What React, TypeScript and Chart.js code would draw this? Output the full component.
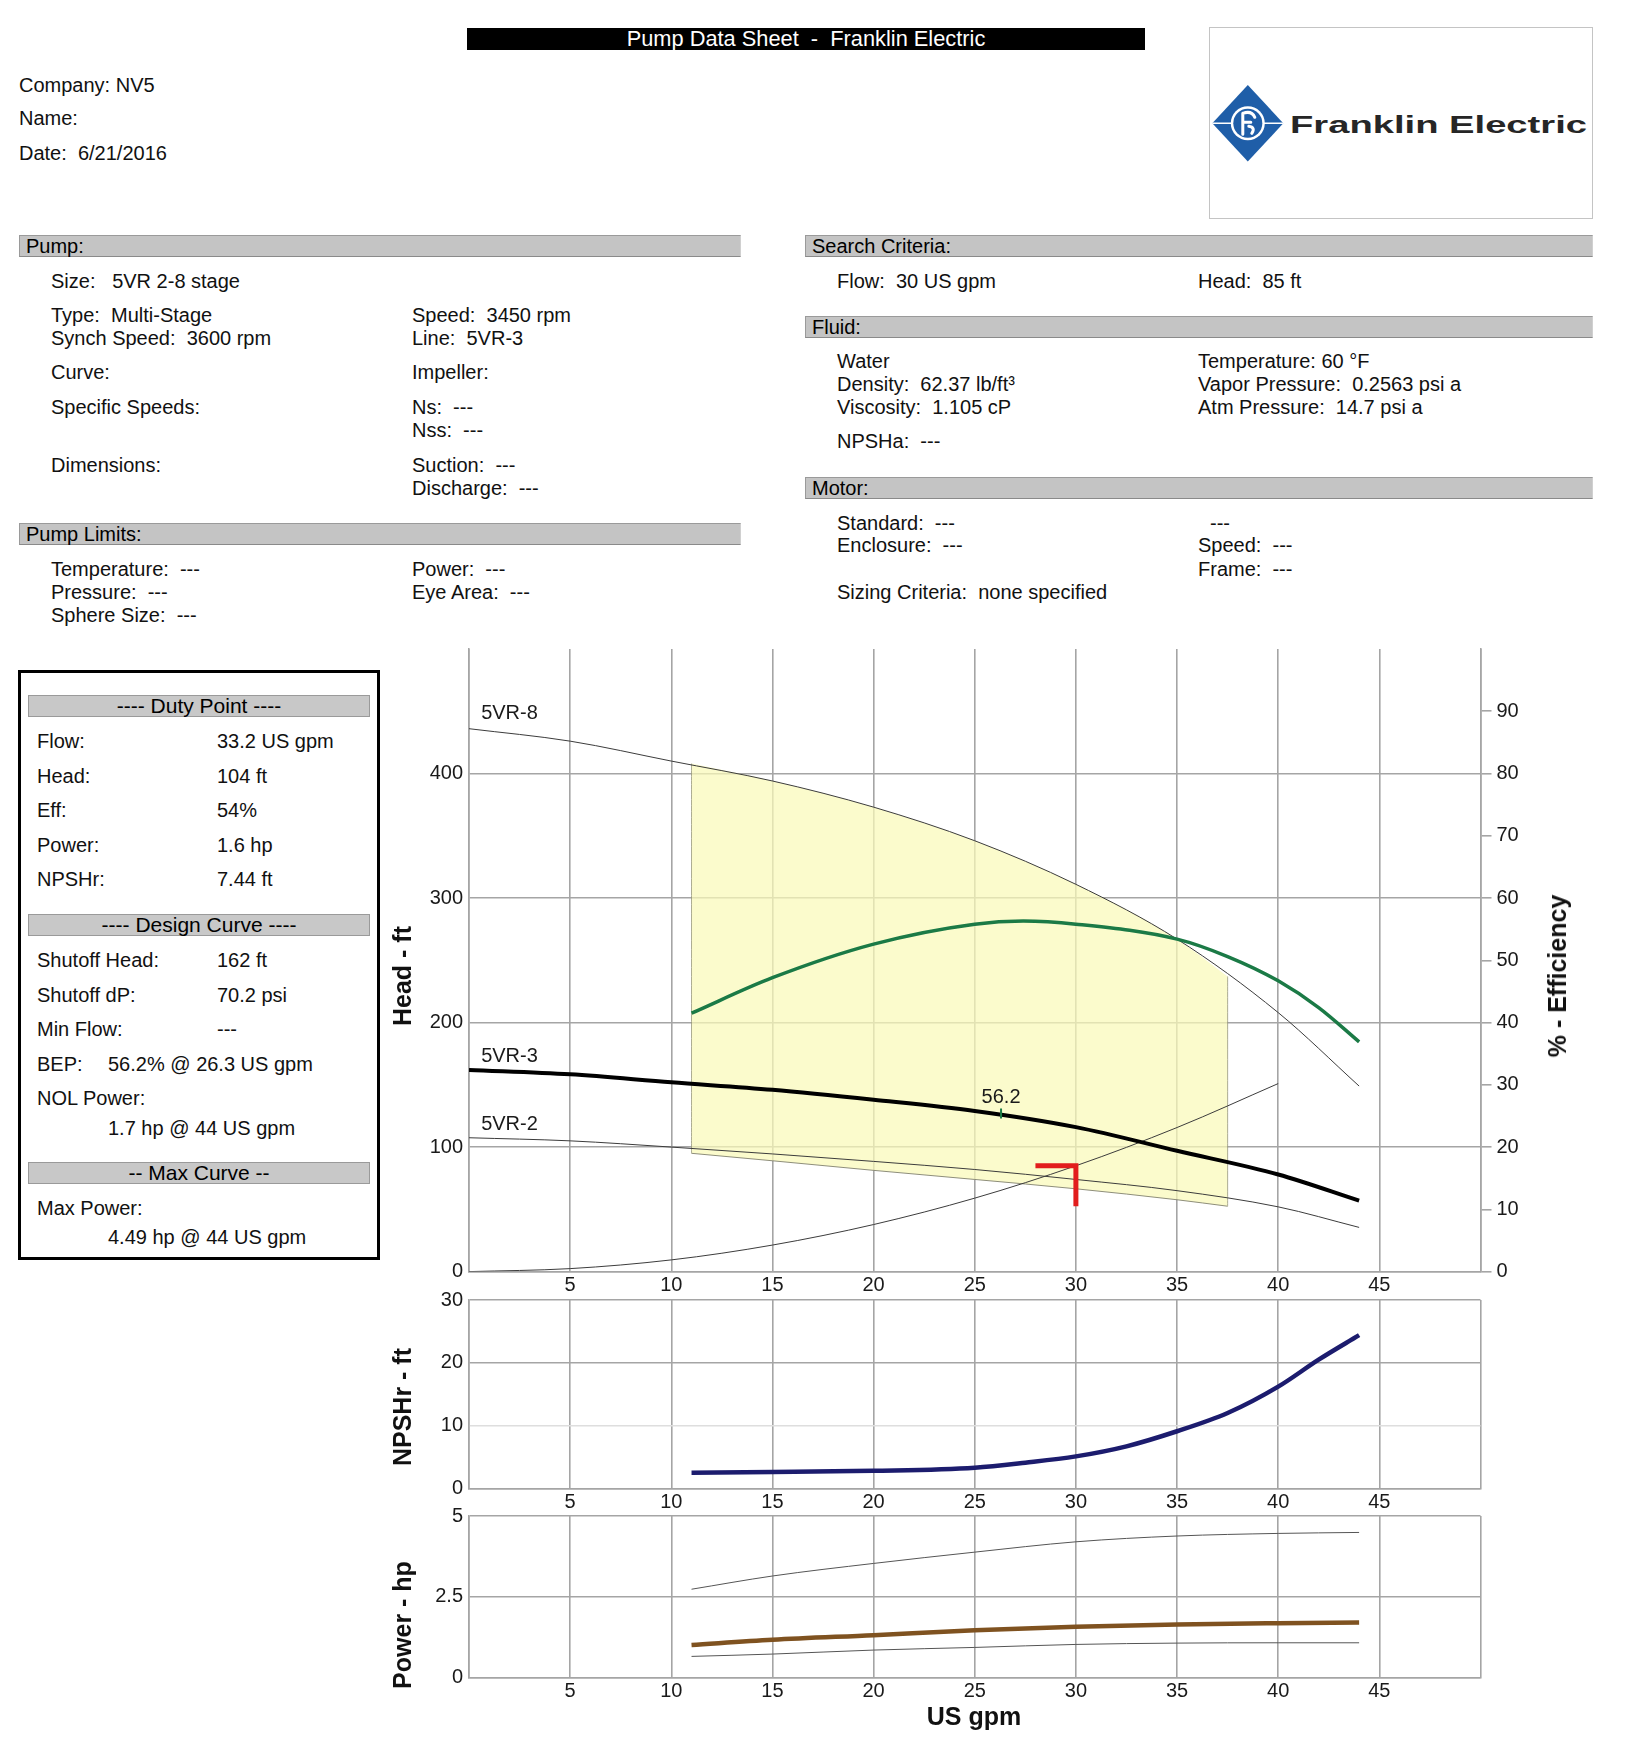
import React, { useEffect, useRef } from 'react';
import Chart from 'chart.js/auto';

const FONT = '"Liberation Sans", Arial, Helvetica, sans-serif';

// ---------- Chart data ----------
const headFlow = [0, 5, 10, 15, 20, 25, 30, 35, 40, 44];
const head5VR8 = [436, 426, 410, 394, 373, 346, 311, 267, 208, 149];
const head5VR3 = [162, 158.4, 152, 146, 138, 129, 116, 97, 78, 57];
const head5VR2 = [107.5, 105, 100, 94.5, 88.5, 82, 74, 65, 52, 35.5];

const systemFlow = [0, 5, 10, 15, 20, 25, 30, 35, 40];
const systemHead = [0, 2.4, 9.4, 21.3, 37.8, 59, 85, 115.7, 151];

const effFlow = [11, 15, 20, 25, 27.4, 30, 35, 37.5, 40, 42, 44];
const effPct = [41.5, 47.2, 52.6, 55.8, 56.3, 55.8, 53.4, 50.6, 46.7, 42.4, 36.9];

const regionFlow = [11, 15, 20, 25, 30, 35, 37.5];
const regionTop = [408, 394, 373, 346, 311, 267, 237];
const regionBottom = [95, 89, 81.3, 74, 66.5, 57.7, 52.5];

const dutyMarkFlow = [28, 30, 30];
const dutyMarkHead = [85, 85, 52.5];

const bepFlow = 26.3;
const bepTickHead = [123, 131];
const bepLabel = '56.2';
const bepLabelHead = 140;

const curveNames = ['5VR-8', '5VR-3', '5VR-2'];
const curveLabelFlow = 0.6;
const curveLabelHead = [448, 173, 118];

const npshFlow = [11, 15, 20, 25, 27.5, 30, 32.5, 35, 37.5, 40, 42, 44];
const npshFt = [2.5, 2.6, 2.8, 3.3, 4.1, 5.1, 6.7, 9.1, 12, 16.2, 20.5, 24.4];

const powerFlow = [11, 15, 20, 25, 30, 35, 40, 44];
const powerMax = [2.73, 3.14, 3.53, 3.88, 4.2, 4.38, 4.46, 4.49];
const powerDesign = [1.0, 1.163, 1.307, 1.46, 1.564, 1.636, 1.677, 1.7];
const powerMin = [0.648, 0.72, 0.844, 0.926, 1.019, 1.06, 1.07, 1.07];

const flowTicks = [5, 10, 15, 20, 25, 30, 35, 40, 45];

// ---------- helpers ----------
const pts = (xs: number[], ys: number[]) => xs.map((x, i) => ({ x, y: ys[i] }));
const GRID = 'rgb(165,165,165)';
const TICK_FONT = { family: FONT, size: 20 };
const TICK_COLOR = '#1a1a1a';

const xScale = (height: number) => ({
  type: 'linear',
  min: 0,
  max: 50,
  afterFit: (s: any) => { s.height = height; },
  ticks: {
    stepSize: 5,
    autoSkip: false,
    maxRotation: 0,
    padding: 2,
    color: TICK_COLOR,
    font: TICK_FONT,
    callback: (v: number) => (flowTicks.includes(v) ? String(v) : ''),
  },
  grid: { color: GRID, lineWidth: 1.6, drawTicks: false },
  border: { color: GRID, width: 1.6 },
});

const thin = (data: any[], color = '#3c3c3c') => ({
  data, borderColor: color, borderWidth: 1, pointRadius: 0, fill: false, cubicInterpolationMode: 'monotone',
});

const curveLabelPlugin = {
  id: 'curveLabels',
  afterDatasetsDraw(chart: any) {
    const { ctx, scales } = chart;
    const x = scales.x, y = scales.y;
    ctx.save();
    ctx.font = `20px ${FONT}`;
    ctx.fillStyle = '#1a1a1a';
    ctx.textBaseline = 'middle';
    ctx.textAlign = 'left';
    curveNames.forEach((n, i) => {
      ctx.fillText(n, x.getPixelForValue(curveLabelFlow), y.getPixelForValue(curveLabelHead[i]));
    });
    ctx.textAlign = 'center';
    ctx.fillText(bepLabel, x.getPixelForValue(bepFlow), y.getPixelForValue(bepLabelHead));
    ctx.restore();
  },
};

function useChart(ref: React.RefObject<HTMLCanvasElement>, make: () => any) {
  useEffect(() => {
    if (!ref.current) return;
    const chart = new Chart(ref.current, make());
    return () => chart.destroy();
  }, []);
}

const baseOptions = {
  responsive: false,
  animation: false,
  devicePixelRatio: 1,
  events: [],
  plugins: { legend: { display: false }, tooltip: { enabled: false } },
};

function HeadChart() {
  const ref = useRef<HTMLCanvasElement>(null);
  useChart(ref, () => ({
    type: 'line',
    data: {
      datasets: [
        { data: pts(dutyMarkFlow, dutyMarkHead), borderColor: '#e21d1d', borderWidth: 5, pointRadius: 0, tension: 0, borderCapStyle: 'butt', borderJoinStyle: 'miter' },
        { data: pts([bepFlow, bepFlow], bepTickHead), borderColor: '#1b7a46', borderWidth: 2, pointRadius: 0 },
        { data: pts(headFlow, head5VR3), borderColor: '#000', borderWidth: 4, pointRadius: 0, cubicInterpolationMode: 'monotone' },
        { data: pts(effFlow, effPct), yAxisID: 'y2', borderColor: '#1b7a46', borderWidth: 3.5, pointRadius: 0, cubicInterpolationMode: 'monotone' },
        thin(pts(headFlow, head5VR8)),
        thin(pts(headFlow, head5VR2)),
        thin(pts(systemFlow, systemHead)),
        thin(pts([regionFlow[0], regionFlow[0]], [regionBottom[0], regionTop[0]]), 'rgba(150,150,120,0.8)'),
        thin(pts([regionFlow[regionFlow.length - 1], regionFlow[regionFlow.length - 1]], [regionBottom[regionBottom.length - 1], regionTop[regionTop.length - 1]]), 'rgba(150,150,120,0.8)'),
        thin(pts(regionFlow, regionBottom), 'rgba(130,130,110,0.9)'),
        { data: pts(regionFlow, regionTop), borderWidth: 0, borderColor: 'rgba(0,0,0,0)', pointRadius: 0, cubicInterpolationMode: 'monotone', fill: '-1', backgroundColor: 'rgba(250,250,185,0.72)' },
      ],
    },
    options: {
      ...baseOptions,
      layout: { padding: { top: 19, left: 0, right: 0, bottom: 0 } },
      scales: {
        x: xScale(33.4),
        y: {
          type: 'linear', position: 'left', min: 0, max: 500,
          afterFit: (s: any) => { s.width = 129; },
          ticks: { stepSize: 100, padding: 6, color: TICK_COLOR, font: TICK_FONT, callback: (v: number) => (v < 500 ? String(v) : '') },
          grid: { color: (c: any) => (c.tick && c.tick.value === 500 ? 'rgba(0,0,0,0)' : GRID), lineWidth: 1.6, drawTicks: false },
          border: { color: GRID, width: 1.6 },
        },
        y2: {
          type: 'linear', position: 'right', min: 0, max: 100,
          afterFit: (s: any) => { s.width = 147.5; },
          ticks: { stepSize: 10, padding: 5, color: TICK_COLOR, font: TICK_FONT, callback: (v: number) => (v < 100 ? String(v) : '') },
          grid: { drawOnChartArea: false, drawTicks: true, tickLength: 11, lineWidth: 1.6, color: (c: any) => (c.tick && c.tick.value === 100 ? 'rgba(0,0,0,0)' : GRID) },
          border: { display: true, color: GRID, width: 1.6 },
        },
      },
    },
    plugins: [curveLabelPlugin],
  }));
  return <canvas ref={ref} width={1288} height={675} style={{ position: 'absolute', left: 340, top: 630 }} />;
}

function NpshChart() {
  const ref = useRef<HTMLCanvasElement>(null);
  useChart(ref, () => ({
    type: 'line',
    data: {
      datasets: [
        { data: pts(npshFlow, npshFt), borderColor: '#1c1c6e', borderWidth: 4.5, pointRadius: 0, cubicInterpolationMode: 'monotone' },
      ],
    },
    options: {
      ...baseOptions,
      layout: { padding: { top: 20, left: 0, right: 147.5, bottom: 0 } },
      scales: {
        x: xScale(28.6),
        y: {
          type: 'linear', position: 'left', min: 0, max: 30,
          afterFit: (s: any) => { s.width = 129; },
          ticks: { stepSize: 10, padding: 6, color: TICK_COLOR, font: TICK_FONT },
          grid: { color: (c: any) => (c.tick && c.tick.value === 10 ? 'rgb(222,222,222)' : GRID), lineWidth: 1.6, drawTicks: false },
          border: { color: GRID, width: 1.6 },
        },
      },
    },
  }));
  return <canvas ref={ref} width={1288} height={237.5} style={{ position: 'absolute', left: 340, top: 1279.5 }} />;
}

function PowerChart() {
  const ref = useRef<HTMLCanvasElement>(null);
  useChart(ref, () => ({
    type: 'line',
    data: {
      datasets: [
        { data: pts(powerFlow, powerDesign), borderColor: '#7f5220', borderWidth: 4.5, pointRadius: 0, cubicInterpolationMode: 'monotone' },
        thin(pts(powerFlow, powerMax), '#555'),
        thin(pts(powerFlow, powerMin), '#555'),
      ],
    },
    options: {
      ...baseOptions,
      layout: { padding: { top: 20, left: 0, right: 147.5, bottom: 0 } },
      scales: {
        x: xScale(26.7),
        y: {
          type: 'linear', position: 'left', min: 0, max: 5,
          afterFit: (s: any) => { s.width = 129; },
          ticks: { stepSize: 2.5, padding: 6, color: TICK_COLOR, font: TICK_FONT, callback: (v: number) => String(v) },
          grid: { color: GRID, lineWidth: 1.6, drawTicks: false },
          border: { color: GRID, width: 1.6 },
        },
      },
    },
  }));
  return <canvas ref={ref} width={1288} height={208.7} style={{ position: 'absolute', left: 340, top: 1496.3 }} />;
}

// ---------- page pieces ----------
const T = ({ x, y, children, style }: any) => (
  <div style={{ position: 'absolute', left: x, top: y - 12, lineHeight: '24px', whiteSpace: 'pre', ...style }}>{children}</div>
);

const Bar = ({ x, y, w, h, label }: any) => (
  <div style={{ position: 'absolute', left: x, top: y, width: w, height: h, boxSizing: 'border-box', background: '#c4c4c4', borderTop: '1px solid #9a9a9a', borderBottom: '1px solid #8a8a8a', borderLeft: '1px solid #9a9a9a', borderRight: '1px solid #d0d0d0', lineHeight: `${h - 2}px`, paddingLeft: 6, whiteSpace: 'pre', color: '#000' }}>{label}</div>
);

const CBar = ({ y, label }: any) => (
  <div style={{ position: 'absolute', left: 28, top: y, width: 342, height: 22.4, boxSizing: 'border-box', background: '#c8c8c8', border: '1px solid #9a9a9a', lineHeight: '20px', textAlign: 'center', fontSize: 21, whiteSpace: 'pre', color: '#000' }}>{label}</div>
);

const VTitle = ({ x, y, children }: any) => (
  <div style={{ position: 'absolute', left: x, top: y, transform: 'translate(-50%, -50%) rotate(-90deg)', fontWeight: 'bold', fontSize: 25, whiteSpace: 'nowrap', lineHeight: '28px', color: '#111' }}>{children}</div>
);

function Logo() {
  const cx = 38.8, cy = 96.3;
  return (
    <svg style={{ position: 'absolute', left: 1209, top: 27 }} width={384} height={192}>
      <rect x={0.5} y={0.5} width={383} height={191} fill="#fff" stroke="#c4c4c4" />
      <polygon points={`${cx - 35.5},${cy} ${cx},${cy - 38.3} ${cx + 35.5},${cy} ${cx},${cy + 38.3}`} fill="#1f5ea8" />
      <line x1={cx - 35.5} y1={cy} x2={cx + 35.5} y2={cy} stroke="#fff" strokeWidth={1.5} />
      <circle cx={cx} cy={cy} r={17} fill="#fff" />
      <circle cx={cx} cy={cy} r={14.5} fill="#1f5ea8" />
      <path d={`M${cx - 5} ${cy - 10} L${cx - 5} ${cy + 11} M${cx - 5} ${cy - 10} Q${cx + 4} ${cy - 13} ${cx + 7} ${cy - 6} M${cx - 5} ${cy - 1} L${cx + 3} ${cy - 1} M${cx + 1} ${cy + 3} Q${cx + 8} ${cy + 4} ${cx + 4} ${cy + 10}`} stroke="#fff" strokeWidth={3} fill="none" strokeLinecap="round" />
      <text x={81} y={105.7} fontFamily={FONT} fontWeight="bold" fontSize={24.5} fill="#262626" textLength={297} lengthAdjust="spacingAndGlyphs">Franklin Electric</text>
    </svg>
  );
}

export default function App() {
  return (
    <div style={{ position: 'absolute', left: 0, top: 0, width: 1628, height: 1752, overflow: 'hidden', background: '#fff', fontFamily: FONT, fontSize: 20, color: '#111' }}>
      {/* Title */}
      <div style={{ position: 'absolute', left: 467, top: 28, width: 678, height: 22.4, background: '#000', color: '#fff', textAlign: 'center', lineHeight: '22px', fontSize: 21.8, whiteSpace: 'pre' }}>Pump Data Sheet  -  Franklin Electric</div>
      <Logo />

      <T x={19} y={85}>Company: NV5</T>
      <T x={19} y={118}>Name:</T>
      <T x={19} y={153}>Date:  6/21/2016</T>

      {/* Pump */}
      <Bar x={19} y={235} w={722} h={22.4} label="Pump:" />
      <T x={51} y={280.5}>Size:   5VR 2-8 stage</T>
      <T x={51} y={315}>Type:  Multi-Stage</T>
      <T x={412} y={315}>Speed:  3450 rpm</T>
      <T x={51} y={337.5}>Synch Speed:  3600 rpm</T>
      <T x={412} y={337.5}>Line:  5VR-3</T>
      <T x={51} y={372}>Curve:</T>
      <T x={412} y={372}>Impeller:</T>
      <T x={51} y={406.7}>Specific Speeds:</T>
      <T x={412} y={406.7}>Ns:  ---</T>
      <T x={412} y={430}>Nss:  ---</T>
      <T x={51} y={464.8}>Dimensions:</T>
      <T x={412} y={464.8}>Suction:  ---</T>
      <T x={412} y={488.3}>Discharge:  ---</T>

      <Bar x={19} y={523} w={722} h={22.4} label="Pump Limits:" />
      <T x={51} y={568.8}>Temperature:  ---</T>
      <T x={412} y={568.8}>Power:  ---</T>
      <T x={51} y={592.2}>Pressure:  ---</T>
      <T x={412} y={592.2}>Eye Area:  ---</T>
      <T x={51} y={614.6}>Sphere Size:  ---</T>

      {/* Right column */}
      <Bar x={805} y={235} w={788} h={22.4} label="Search Criteria:" />
      <T x={837} y={280.5}>Flow:  30 US gpm</T>
      <T x={1198} y={280.5}>Head:  85 ft</T>

      <Bar x={805} y={316} w={788} h={22} label="Fluid:" />
      <T x={837} y={361}>Water</T>
      <T x={1198} y={361}>Temperature: 60 °F</T>
      <T x={837} y={384.4}>Density:  62.37 lb/ft³</T>
      <T x={1198} y={384.4}>Vapor Pressure:  0.2563 psi a</T>
      <T x={837} y={406.7}>Viscosity:  1.105 cP</T>
      <T x={1198} y={406.7}>Atm Pressure:  14.7 psi a</T>
      <T x={837} y={441.4}>NPSHa:  ---</T>

      <Bar x={805} y={477} w={788} h={22.4} label="Motor:" />
      <T x={837} y={523}>Standard:  ---</T>
      <T x={1210} y={523}>---</T>
      <T x={837} y={545.3}>Enclosure:  ---</T>
      <T x={1198} y={545.3}>Speed:  ---</T>
      <T x={1198} y={568.8}>Frame:  ---</T>
      <T x={837} y={592.2}>Sizing Criteria:  none specified</T>

      {/* Duty box */}
      <div style={{ position: 'absolute', left: 18, top: 670.4, width: 362, height: 590, boxSizing: 'border-box', border: '3px solid #000' }} />
      <CBar y={695} label="---- Duty Point ----" />
      <T x={37} y={741}>Flow:</T><T x={217} y={741}>33.2 US gpm</T>
      <T x={37} y={775.5}>Head:</T><T x={217} y={775.5}>104 ft</T>
      <T x={37} y={810}>Eff:</T><T x={217} y={810}>54%</T>
      <T x={37} y={844.7}>Power:</T><T x={217} y={844.7}>1.6 hp</T>
      <T x={37} y={879.4}>NPSHr:</T><T x={217} y={879.4}>7.44 ft</T>
      <CBar y={914} label="---- Design Curve ----" />
      <T x={37} y={960}>Shutoff Head:</T><T x={217} y={960}>162 ft</T>
      <T x={37} y={994.5}>Shutoff dP:</T><T x={217} y={994.5}>70.2 psi</T>
      <T x={37} y={1029}>Min Flow:</T><T x={217} y={1029}>---</T>
      <T x={37} y={1063.8}>BEP:</T><T x={108} y={1063.8}>56.2% @ 26.3 US gpm</T>
      <T x={37} y={1098.4}>NOL Power:</T>
      <T x={108} y={1127.5}>1.7 hp @ 44 US gpm</T>
      <CBar y={1162} label="-- Max Curve --" />
      <T x={37} y={1208}>Max Power:</T>
      <T x={108} y={1237}>4.49 hp @ 44 US gpm</T>

      {/* Charts */}
      <HeadChart />
      <NpshChart />
      <PowerChart />

      <VTitle x={402} y={975.5}>Head - ft</VTitle>
      <VTitle x={1556.5} y={975.5}>% - Efficiency</VTitle>
      <VTitle x={402} y={1407}>NPSHr - ft</VTitle>
      <VTitle x={402} y={1625}>Power - hp</VTitle>
      <div style={{ position: 'absolute', left: 974, top: 1716, transform: 'translate(-50%, -50%)', fontWeight: 'bold', fontSize: 25, whiteSpace: 'nowrap', lineHeight: '28px' }}>US gpm</div>
    </div>
  );
}
